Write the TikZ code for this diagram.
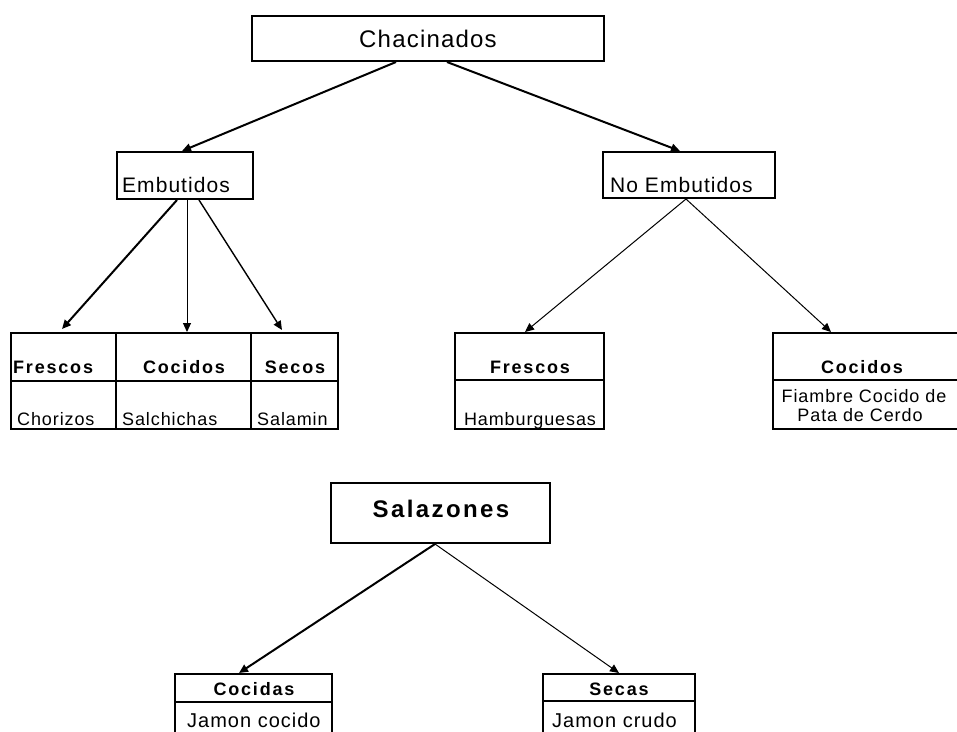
\documentclass[tikz,border=0pt]{standalone}
\usepackage{fontspec}
\setmainfont{Liberation Sans}
\newfontfamily\lblfont{Liberation Sans}[LetterSpace=5]
\newfontfamily\hdrfont{Liberation Sans}[LetterSpace=10]
\usetikzlibrary{arrows.meta,fit,calc}

\begin{document}
\begin{tikzpicture}[x=1pt,y=-1pt,
  box/.style={draw,line width=2pt,inner sep=0pt},
  rule/.style={line width=2pt},
  ttl/.style={anchor=base,inner sep=0pt,font=\lblfont\fontsize{24}{26}\selectfont},
  mid/.style={anchor=base west,inner sep=0pt,font=\lblfont\fontsize{21}{23}\selectfont},
  txt/.style={anchor=base,inner sep=0pt,font=\lblfont\fontsize{18}{20}\selectfont},
  txtb/.style={anchor=base,inner sep=0pt,font=\lblfont\fontsize{20}{22}\selectfont},
  hdr/.style={anchor=base,inner sep=0pt,font=\hdrfont\bfseries\fontsize{18}{20}\selectfont},
  big/.style={anchor=base,inner sep=0pt,font=\hdrfont\bfseries\fontsize{24}{27}\selectfont},
  link/.style={-{Triangle[length=9pt,width=8pt]},line width=2pt},
  linkm/.style={-{Triangle[length=9pt,width=8pt]},line width=1.4pt},
  linkt/.style={-{Triangle[length=9pt,width=8pt]},line width=1pt}
]
\useasboundingbox (0,0) rectangle (957,731);
\clip (0,0) rectangle (957,731);

% ---- Chacinados tree ----
\node[box,fit={(252,16) (604,61)}] (chac) {};
\node[ttl] (chacT) at (428,47) {Chacinados};

\node[box,fit={(117,152) (253,199)}] (emb) {};
\node[mid] (embT) at (122,192) {Embutidos};

\node[box,fit={(603,152) (775,198)}] (noemb) {};
\node[mid] (noembT) at (610,192) {No Embutidos};

% Embutidos: three-column table
\node[box,fit={(11,333) (338,429)}] (embTab) {};
\draw[rule] ($(embTab.north west)+(0,49)$) -- ($(embTab.north east)+(0,49)$);
\draw[rule] ($(embTab.north west)+(106,0)$) -- ($(embTab.south west)+(106,0)$);
\draw[rule] ($(embTab.north west)+(241,0)$) -- ($(embTab.south west)+(241,0)$);
\node[hdr,anchor=base west] (fresH) at (13,373) {Frescos};
\node[hdr] (cocH) at (184,373) {Cocidos};
\node[hdr] (secH) at (295,373) {Secos};
\node[txt,anchor=base west] (chorT) at (17,425) {Chorizos};
\node[txt,anchor=base west] (salcT) at (122,425) {Salchichas};
\node[txt,anchor=base west] (salaT) at (257,425) {Salamin};

% No Embutidos: two tables
\node[box,fit={(455,333) (604,429)}] (neFres) {};
\draw[rule] ($(neFres.north west)+(0,48)$) -- ($(neFres.north east)+(0,48)$);
\node[hdr] (neFresH) at (530,373) {Frescos};
\node[txt] (hambT) at (530,425) {Hamburguesas};

\node[box,fit={(773,333) (962,429)}] (neCoc) {};
\draw[rule] ($(neCoc.north west)+(0,48)$) -- ($(neCoc.north east)+(0,48)$);
\node[hdr] (neCocH) at (862,373) {Cocidos};
\node[txt] (fiamT) at (864,402) {Fiambre Cocido de};
\node[txt] (pataT) at (860,421) {Pata de Cerdo};

% ---- Salazones tree ----
\node[box,fit={(331,483) (550,543)}] (sal) {};
\node[big] (salT) at (441,517) {Salazones};

\node[box,fit={(175,674) (332,745)}] (cocidas) {};
\draw[rule] ($(cocidas.north west)+(0,29)$) -- ($(cocidas.north east)+(0,29)$);
\node[hdr] (cocidasH) at (254,695) {Cocidas};
\node[txtb,anchor=base west] (jcocT) at (187,727) {Jamon cocido};

\node[box,fit={(543,674) (695,745)}] (secas) {};
\draw[rule] ($(secas.north west)+(0,28)$) -- ($(secas.north east)+(0,28)$);
\node[hdr] (secasH) at (619,695) {Secas};
\node[txtb,anchor=base west] (jcruT) at (552,727) {Jamon crudo};

% ---- connectors ----
\coordinate (chacL) at ($(chac.south west)+(145,0)$);
\coordinate (chacR) at ($(chac.south west)+(196,0)$);
\draw[link] (chacL) -- ($(emb.north west)+(66,0)$);
\draw[link] (chacR) -- ($(noemb.north west)+(78,0)$);

\coordinate (embL) at ($(emb.south west)+(61,0)$);
\coordinate (embM) at ($(emb.south west)+(71,0)$);
\coordinate (embR) at ($(emb.south west)+(83,0)$);
\draw[link]  (embL) -- ($(embTab.north west)+(52,-3)$);
\draw[linkt] (embM) -- ($(embTab.north west)+(177,0)$);
\draw[linkm] (embR) -- ($(embTab.north west)+(272,-2)$);

\coordinate (noembB) at ($(noemb.south west)+(84,0)$);
\draw[linkt] (noembB) -- ($(neFres.north west)+(71,0)$);
\draw[linkt] (noembB) -- ($(neCoc.north west)+(59,0)$);

\coordinate (salB) at ($(sal.south west)+(105,0)$);
\draw[link]  (salB) -- ($(cocidas.north west)+(65,0)$);
\draw[linkt] (salB) -- ($(secas.north west)+(77,0)$);
\end{tikzpicture}
\end{document}
